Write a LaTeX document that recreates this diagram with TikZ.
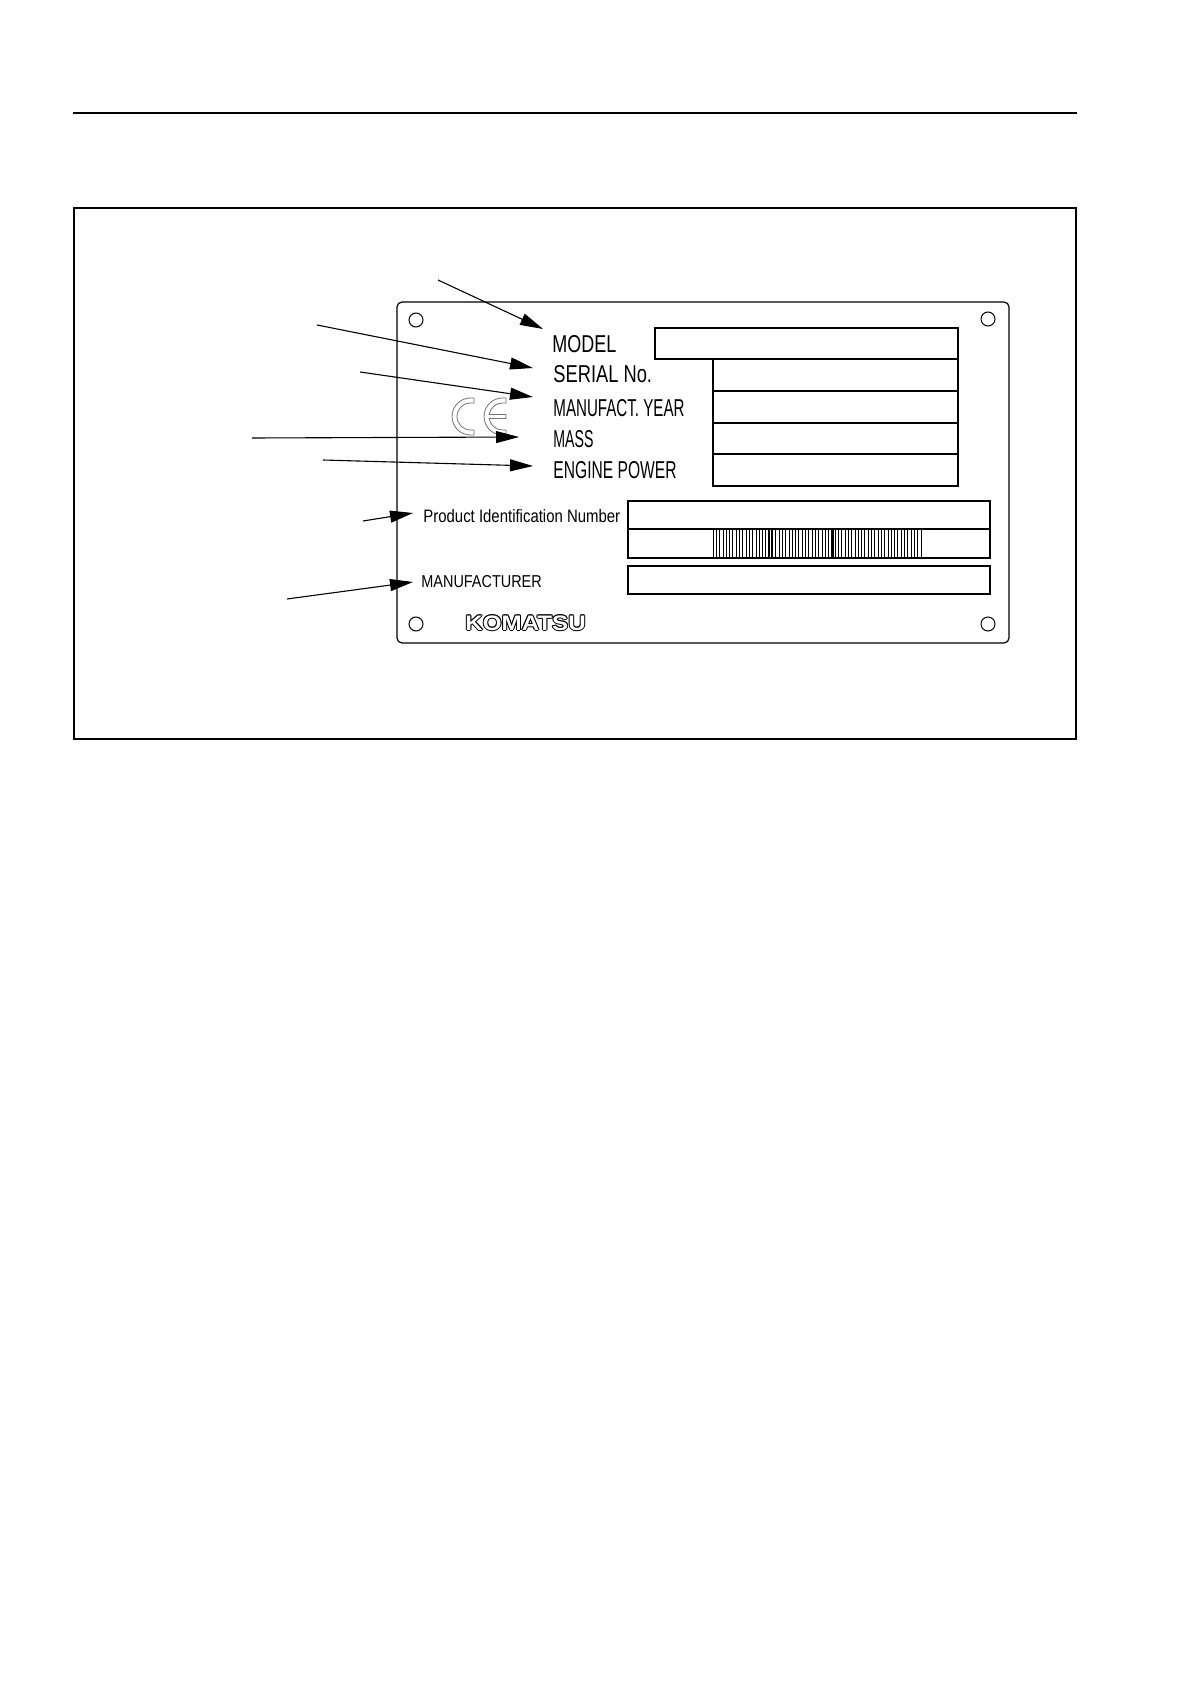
\documentclass[tikz,border=0pt]{standalone}
\usepackage{graphicx}
\usepackage{fontspec}
\setmainfont{Liberation Sans}
\usetikzlibrary{arrows.meta}
\begin{document}
\begin{tikzpicture}[x=0.5pt,y=-0.5pt,
  lab/.style={anchor=base west, inner sep=0pt, font=\fontsize{12.2}{14}\selectfont},
  slab/.style={anchor=base west, inner sep=0pt, font=\fontsize{9}{11}\selectfont},
  logotxt/.style={anchor=base west, inner sep=0pt, font=\bfseries\fontsize{10.5}{12}\selectfont},
  ptr/.style={-{Triangle[length=11.5pt,width=6pt]}, line width=0.55pt},
  thinline/.style={line width=0.6pt},
  bar/.style={line width=0.35pt},
  ce/.style={draw=black!55, line width=0.4pt},
  hole/.style={line width=0.5pt},
]
\useasboundingbox (0,0) rectangle (1190,1684);
\fill[white] (0,0) rectangle (1190,1684);
% header rule and frame
\draw[line width=0.8pt] (73,113) -- (1077,113);
\draw[line width=1.2pt] (74,208) rectangle (1076,739);
% plate
\draw[thinline, rounded corners=2.5pt] (397,302) rectangle (1009,643);
\foreach \hx/\hy in {416/320, 988/319, 416/624, 988/624}
  \draw[hole] (\hx,\hy) circle[radius=7];
% value boxes
\draw[thinline] (655,328) rectangle (958,359);
\draw[thinline] (713,359) rectangle (958,391);
\draw[thinline] (713,391) rectangle (958,423);
\draw[thinline] (713,423) rectangle (958,454);
\draw[thinline] (713,454) rectangle (958,486);
\draw[thinline] (628,501) rectangle (990,558);
\draw[thinline] (628,529) -- (990,529);
\draw[thinline] (628,566) rectangle (990,594);
% barcode
\foreach \i in {0,...,63}
  \draw[bar] (713+3.3*\i,529) -- (713+3.3*\i,558);
\draw[line width=0.5pt] (768.5,529) -- (768.5,558);
\draw[line width=0.5pt] (771,529) -- (771,558);
\draw[line width=0.6pt] (833,529) -- (833,558);
% CE mark
\draw[ce] (474,398) -- (470.5,398) arc[start angle=270, end angle=90, radius=18.5]
  -- (474,435) -- (474,430) -- (470.5,430) arc[start angle=90, end angle=270, radius=13.5]
  -- (474,403) -- cycle;
\draw[ce] (506,398) -- (502.5,398) arc[start angle=270, end angle=90, radius=18.5]
  -- (506,435) -- (506,430) -- (502.5,430) arc[start angle=90, end angle=171.5, radius=13.5]
  -- (506,418.5) -- (506,414.5) -- (489.15,414.5) arc[start angle=188.5, end angle=270, radius=13.5]
  -- (506,403) -- cycle;
% labels
\node[lab] (model) at (552,353) {\scalebox{0.737}[1]{MODEL}};
\node[lab] (serial) at (553,383) {\scalebox{0.75}[1]{SERIAL No.}};
\node[lab] (year) at (553,416) {\scalebox{0.62}[1]{MANUFACT. YEAR}};
\node[lab] (mass) at (553,447) {\scalebox{0.58}[1]{MASS}};
\node[lab] (power) at (553,479) {\scalebox{0.64}[1]{ENGINE POWER}};
\node[slab] (pin) at (423,522) {\scalebox{0.83}[1]{Product Identification Number}};
\node[slab, font=\fontsize{8.6}{10}\selectfont] (manuf) at (421,587) {\scalebox{0.84}[1]{MANUFACTURER}};
% logo (outlined)
\foreach \dx/\dy [count=\k] in {0.5/0,-0.5/0,0/0.5,0/-0.5,0.35/0.35,-0.35/0.35,0.35/-0.35,-0.35/-0.35}
  \node[logotxt, xshift=\dx pt, yshift=\dy pt] (logo\k) at (465,630) {\scalebox{1.15}[1]{KOMATSU}};
\node[logotxt, text=white] (logo) at (465,630) {\scalebox{1.15}[1]{KOMATSU}};
% arrow ends
\coordinate (s1) at (438,280); \coordinate (t1) at (543,329);
\coordinate (s2) at (317,325); \coordinate (t2) at (533,368);
\coordinate (s3) at (360,372); \coordinate (t3) at (533,397);
\coordinate (s4) at (252,438); \coordinate (t4) at (519,437);
\coordinate (s5) at (323,460); \coordinate (t5) at (533,466);
\coordinate (s6) at (363,521); \coordinate (t6) at (413,513);
\coordinate (s7) at (287,599); \coordinate (t7) at (413,582);
\foreach \n in {1,...,7}
  \draw[ptr] (s\n) -- (t\n);
\end{tikzpicture}
\end{document}
